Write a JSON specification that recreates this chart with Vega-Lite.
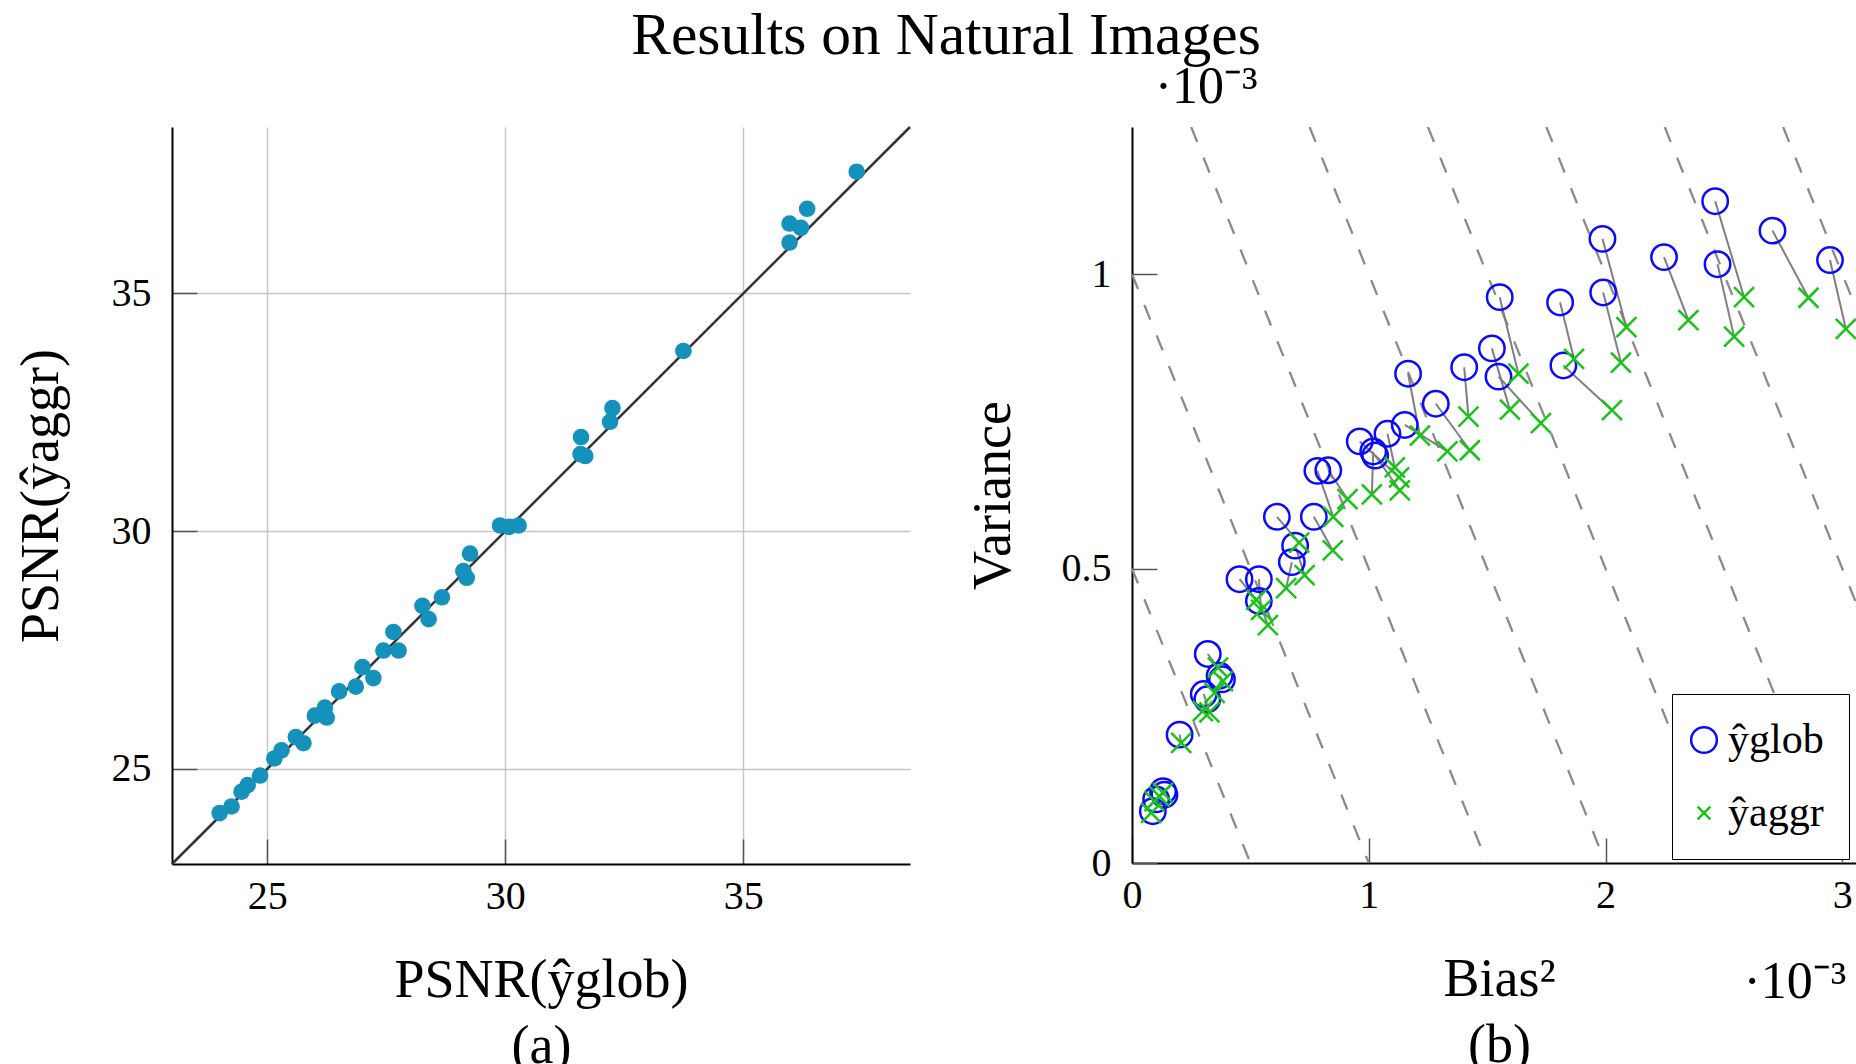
{
  "$schema": "https://vega.github.io/schema/vega-lite/v6.json",
  "background": "white",
  "padding": {"left": 14, "top": 5, "right": 0, "bottom": 0},
  "title": {"text": "Results on Natural Images", "font": "Liberation Serif", "fontSize": 59.5, "fontWeight": "normal", "color": "black", "anchor": "middle", "frame": "bounds", "offset": -5, "dx": 6},
  "config": {
    "view": {"stroke": null},
    "font": "Liberation Serif",
    "axis": {"labelFont": "Liberation Serif", "titleFont": "Liberation Serif", "labelFontSize": 40, "titleFontSize": 54, "titleFontWeight": "normal", "labelColor": "black", "titleColor": "black", "domainColor": "black", "domainWidth": 2, "tickColor": "#555555", "tickWidth": 1.5, "tickSize": -25, "labelFlush": false, "labelOverlap": false},
    "axisX": {"labelPadding": 37, "titleBaseline": "alphabetic", "titleY": 132, "titleLineHeight": 66},
    "axisY": {"labelPadding": 46},
    "legend": {"labelFont": "Liberation Serif", "labelFontSize": 42, "labelColor": "black", "symbolStrokeWidth": 2.5, "symbolSize": 660, "strokeColor": "black", "fillColor": "white", "padding": 25, "rowPadding": 31, "labelOffset": 3, "symbolOffset": -14}
  },
  "datasets": {
    "psnr": [
      {"glob": 24.00, "aggr": 24.07}, {"glob": 24.25, "aggr": 24.21}, {"glob": 24.46, "aggr": 24.52}, {"glob": 24.59, "aggr": 24.66},
      {"glob": 24.85, "aggr": 24.86}, {"glob": 25.15, "aggr": 25.22}, {"glob": 25.30, "aggr": 25.39}, {"glob": 25.60, "aggr": 25.67},
      {"glob": 25.76, "aggr": 25.54}, {"glob": 26.00, "aggr": 26.12}, {"glob": 26.21, "aggr": 26.29}, {"glob": 26.25, "aggr": 26.08},
      {"glob": 26.51, "aggr": 26.63}, {"glob": 26.86, "aggr": 26.73}, {"glob": 27.00, "aggr": 27.14}, {"glob": 27.23, "aggr": 26.91},
      {"glob": 27.44, "aggr": 27.49}, {"glob": 27.65, "aggr": 27.88}, {"glob": 27.76, "aggr": 27.49}, {"glob": 28.26, "aggr": 28.43},
      {"glob": 28.39, "aggr": 28.15}, {"glob": 28.67, "aggr": 28.61}, {"glob": 29.12, "aggr": 29.16}, {"glob": 29.19, "aggr": 29.02},
      {"glob": 29.26, "aggr": 29.53}, {"glob": 29.89, "aggr": 30.12}, {"glob": 30.08, "aggr": 30.09}, {"glob": 30.28, "aggr": 30.12},
      {"glob": 31.58, "aggr": 31.62}, {"glob": 31.68, "aggr": 31.58}, {"glob": 31.59, "aggr": 31.98}, {"glob": 32.20, "aggr": 32.30},
      {"glob": 32.25, "aggr": 32.59}, {"glob": 33.74, "aggr": 33.79}, {"glob": 35.97, "aggr": 36.07}, {"glob": 35.97, "aggr": 36.47},
      {"glob": 36.21, "aggr": 36.38}, {"glob": 36.34, "aggr": 36.78}, {"glob": 37.38, "aggr": 37.56}
    ],
    "bv": [
      {"bg": 1.553, "vg": 0.961, "ba": 1.632, "va": 0.831}, {"bg": 1.808, "vg": 0.952, "ba": 1.867, "va": 0.856},
      {"bg": 1.520, "vg": 0.874, "ba": 1.596, "va": 0.770}, {"bg": 1.548, "vg": 0.826, "ba": 1.727, "va": 0.747},
      {"bg": 1.822, "vg": 0.845, "ba": 2.027, "va": 0.769}, {"bg": 1.403, "vg": 0.842, "ba": 1.421, "va": 0.758},
      {"bg": 1.166, "vg": 0.831, "ba": 1.216, "va": 0.726}, {"bg": 1.283, "vg": 0.780, "ba": 1.427, "va": 0.701},
      {"bg": 1.152, "vg": 0.744, "ba": 1.332, "va": 0.699}, {"bg": 1.079, "vg": 0.729, "ba": 1.110, "va": 0.672},
      {"bg": 0.962, "vg": 0.716, "ba": 1.128, "va": 0.655}, {"bg": 1.019, "vg": 0.699, "ba": 1.013, "va": 0.626},
      {"bg": 1.027, "vg": 0.692, "ba": 1.131, "va": 0.633}, {"bg": 0.783, "vg": 0.666, "ba": 0.850, "va": 0.588},
      {"bg": 0.829, "vg": 0.667, "ba": 0.910, "va": 0.618}, {"bg": 0.612, "vg": 0.588, "ba": 0.706, "va": 0.544},
      {"bg": 0.768, "vg": 0.588, "ba": 0.848, "va": 0.531}, {"bg": 1.987, "vg": 1.060, "ba": 2.088, "va": 0.910},
      {"bg": 1.990, "vg": 0.969, "ba": 2.065, "va": 0.850}, {"bg": 2.247, "vg": 1.029, "ba": 2.350, "va": 0.922},
      {"bg": 2.463, "vg": 1.124, "ba": 2.585, "va": 0.961}, {"bg": 2.473, "vg": 1.017, "ba": 2.543, "va": 0.894},
      {"bg": 2.705, "vg": 1.074, "ba": 2.857, "va": 0.960}, {"bg": 2.948, "vg": 1.024, "ba": 3.015, "va": 0.907},
      {"bg": 0.689, "vg": 0.539, "ba": 0.729, "va": 0.489}, {"bg": 0.675, "vg": 0.511, "ba": 0.651, "va": 0.467},
      {"bg": 0.454, "vg": 0.482, "ba": 0.525, "va": 0.447}, {"bg": 0.536, "vg": 0.482, "ba": 0.545, "va": 0.430},
      {"bg": 0.536, "vg": 0.445, "ba": 0.574, "va": 0.404}, {"bg": 0.320, "vg": 0.355, "ba": 0.363, "va": 0.332},
      {"bg": 0.370, "vg": 0.318, "ba": 0.384, "va": 0.309}, {"bg": 0.380, "vg": 0.312, "ba": 0.349, "va": 0.289},
      {"bg": 0.303, "vg": 0.287, "ba": 0.327, "va": 0.256}, {"bg": 0.318, "vg": 0.278, "ba": 0.299, "va": 0.258},
      {"bg": 0.201, "vg": 0.218, "ba": 0.208, "va": 0.204}, {"bg": 0.131, "vg": 0.122, "ba": 0.116, "va": 0.113},
      {"bg": 0.137, "vg": 0.116, "ba": 0.131, "va": 0.119}, {"bg": 0.102, "vg": 0.108, "ba": 0.095, "va": 0.105},
      {"bg": 0.088, "vg": 0.088, "ba": 0.081, "va": 0.085}
    ],
    "iso": [
      {"c": 0.5, "b": 0, "v": 0.5}, {"c": 0.5, "b": 0.5, "v": 0},
      {"c": 1.0, "b": 0, "v": 1.0}, {"c": 1.0, "b": 1.0, "v": 0},
      {"c": 1.5, "b": 0.25, "v": 1.25}, {"c": 1.5, "b": 1.5, "v": 0},
      {"c": 2.0, "b": 0.75, "v": 1.25}, {"c": 2.0, "b": 2.0, "v": 0},
      {"c": 2.5, "b": 1.25, "v": 1.25}, {"c": 2.5, "b": 2.5, "v": 0},
      {"c": 3.0, "b": 1.75, "v": 1.25}, {"c": 3.0, "b": 3.0, "v": 0},
      {"c": 3.5, "b": 2.25, "v": 1.25}, {"c": 3.5, "b": 3.5, "v": 0},
      {"c": 4.0, "b": 2.75, "v": 1.25}, {"c": 4.0, "b": 4.0, "v": 0}
    ],
    "diag": [{"p": 23}, {"p": 38.5}],
    "note": [{"label": "·10⁻³"}]
  },
  "bounds": "flush",
  "spacing": 222,
  "hconcat": [
    {
      "width": 738,
      "height": 737,
      "layer": [
        {
          "data": {"name": "diag"},
          "mark": {"type": "line", "color": "#333333", "strokeWidth": 2.5},
          "encoding": {
            "x": {"field": "p", "type": "quantitative", "scale": {"domain": [23, 38.5], "nice": false, "zero": false},
                  "axis": {"values": [25, 30, 35], "grid": true, "gridColor": "#c6c6c6", "gridWidth": 1.5, "title": ["PSNR(ŷglob)", "(a)"]}},
            "y": {"field": "p", "type": "quantitative", "scale": {"domain": [23, 38.5], "nice": false, "zero": false},
                  "axis": {"values": [25, 30, 35], "grid": true, "gridColor": "#c6c6c6", "gridWidth": 1.5, "title": "PSNR(ŷaggr)", "titlePadding": 43}}
          }
        },
        {
          "data": {"name": "psnr"},
          "mark": {"type": "circle", "color": "#1592bb", "size": 276, "opacity": 1},
          "encoding": {
            "x": {"field": "glob", "type": "quantitative", "title": ["PSNR(ŷglob)", "(a)"]},
            "y": {"field": "aggr", "type": "quantitative", "title": "PSNR(ŷaggr)"}
          }
        }
      ]
    },
    {
      "width": 734,
      "height": 736,
      "layer": [
        {
          "data": {"name": "iso"},
          "mark": {"type": "line", "color": "#8a8a8a", "strokeWidth": 2.3, "strokeDash": [16, 17], "clip": true},
          "encoding": {
            "x": {"field": "b", "type": "quantitative", "scale": {"domain": [0, 3.1], "nice": false, "zero": false},
                  "axis": {"values": [0, 1, 2, 3], "grid": false, "format": "~g", "title": ["Bias²", "(b)"]}},
            "y": {"field": "v", "type": "quantitative", "scale": {"domain": [0, 1.25], "nice": false, "zero": false},
                  "axis": {"values": [0, 0.5, 1], "grid": false, "format": "~g", "title": "Variance", "titlePadding": 41}},
            "detail": {"field": "c", "type": "nominal"}
          }
        },
        {
          "data": {"name": "bv"},
          "mark": {"type": "rule", "color": "#7f7f7f", "strokeWidth": 2},
          "encoding": {
            "x": {"field": "bg", "type": "quantitative", "title": ["Bias²", "(b)"]},
            "y": {"field": "vg", "type": "quantitative", "title": "Variance"},
            "x2": {"field": "ba"},
            "y2": {"field": "va"}
          }
        },
        {
          "data": {"name": "bv"},
          "mark": {"type": "point", "filled": false, "strokeWidth": 2.5, "size": 645, "opacity": 1},
          "encoding": {
            "x": {"field": "bg", "type": "quantitative", "title": ["Bias²", "(b)"]},
            "y": {"field": "vg", "type": "quantitative", "title": "Variance"},
            "color": {"datum": "ŷglob", "type": "nominal", "scale": {"domain": ["ŷglob", "ŷaggr"], "range": ["#0a0aff", "#17c417"]},
                      "legend": {"title": null, "orient": "none", "legendX": 1500, "legendY": 567}},
            "shape": {"datum": "ŷglob", "type": "nominal", "scale": {"domain": ["ŷglob", "ŷaggr"], "range": ["circle", "M-0.5,-0.5L0.5,0.5M-0.5,0.5L0.5,-0.5"]},
                      "legend": {"title": null, "orient": "none", "legendX": 1500, "legendY": 567}}
          }
        },
        {
          "data": {"name": "bv"},
          "mark": {"type": "point", "filled": false, "strokeWidth": 2.5, "size": 1600, "opacity": 1},
          "encoding": {
            "x": {"field": "ba", "type": "quantitative", "title": ["Bias²", "(b)"]},
            "y": {"field": "va", "type": "quantitative", "title": "Variance"},
            "color": {"datum": "ŷaggr", "type": "nominal"},
            "shape": {"datum": "ŷaggr", "type": "nominal"}
          }
        },
        {
          "data": {"name": "note"},
          "mark": {"type": "text", "font": "Liberation Serif", "fontSize": 52, "color": "black", "align": "center", "baseline": "middle", "dy": -40},
          "encoding": {
            "x": {"datum": 0.313, "type": "quantitative"},
            "y": {"datum": 1.25, "type": "quantitative"},
            "text": {"field": "label"}
          }
        },
        {
          "data": {"name": "note"},
          "mark": {"type": "text", "font": "Liberation Serif", "fontSize": 52, "color": "black", "align": "center", "baseline": "middle", "dy": 119},
          "encoding": {
            "x": {"datum": 2.8, "type": "quantitative"},
            "y": {"datum": 0, "type": "quantitative"},
            "text": {"field": "label"}
          }
        }
      ]
    }
  ]
}
